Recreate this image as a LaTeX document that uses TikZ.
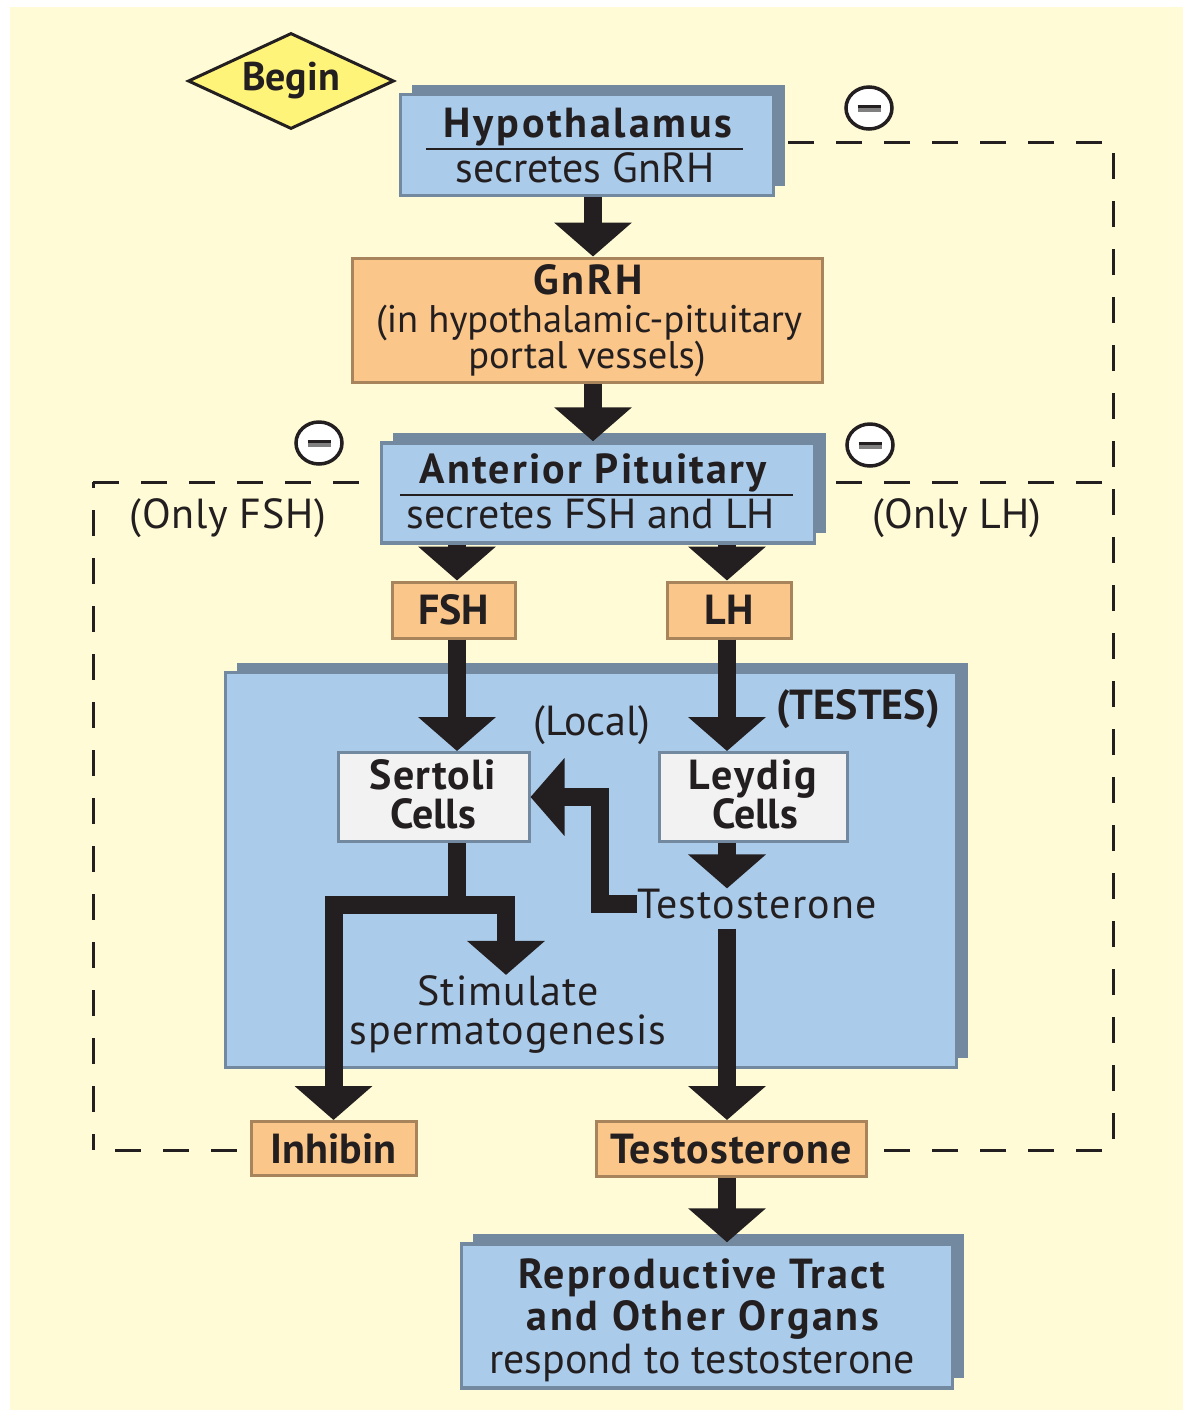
\documentclass[tikz,border=0pt]{standalone}
\usepackage{fontspec}
\setmainfont{PT Sans}
\usetikzlibrary{arrows.meta,shapes.geometric,shadows,calc}
\definecolor{cream}{HTML}{FFFBD6}
\definecolor{bluef}{HTML}{ABCBEA}
\definecolor{slate}{HTML}{7389A0}
\definecolor{orangef}{HTML}{FBC68A}
\definecolor{orangeb}{HTML}{A8845C}
\definecolor{yel}{HTML}{FFF47A}
\definecolor{cellf}{HTML}{F2F2F2}
\definecolor{ink}{HTML}{231F20}
\definecolor{minusgray}{HTML}{808080}
\begin{document}
\begin{tikzpicture}[x=1pt,y=-1pt,
  bluebox/.style={draw=slate, line width=3.5pt, fill=bluef, inner sep=0pt,
    general shadow={fill=slate, shadow xshift=11pt, shadow yshift=10pt}},
  orbox/.style={draw=orangeb, line width=3pt, fill=orangef, inner sep=0pt,
    text=ink, font=\fontsize{42}{42}\selectfont\bfseries},
  cellbox/.style={draw=slate, line width=3pt, fill=cellf, inner sep=0pt},
  fat/.style={draw=ink, line width=18pt, line join=miter,
    -{Triangle[length=34pt,width=76pt]}},
  fatline/.style={draw=ink, line width=18pt},
  dashline/.style={draw=ink, line width=3pt, dash pattern=on 26pt off 22pt},
  bt/.style={font=\fontsize{42}{42}\selectfont\bfseries, text=ink, inner sep=0pt, anchor=base},
  btw/.style={font=\fontsize{42}{42}\selectfont\bfseries\addfontfeatures{LetterSpace=#1},
    text=ink, inner sep=0pt, anchor=base},
  rt/.style={font=\fontsize{42}{42}\selectfont, text=ink, inner sep=0pt, anchor=base},
  rtw/.style={font=\fontsize{42}{42}\selectfont\addfontfeatures{LetterSpace=#1},
    text=ink, inner sep=0pt, anchor=base},
  rts/.style={font=\fontsize{38.5}{38.5}\selectfont, text=ink, inner sep=0pt, anchor=base},
  minus/.style={ellipse, draw=ink, fill=white, line width=3.5pt,
    minimum width=46pt, minimum height=42pt, inner sep=0pt},
  ruleline/.style={draw=ink, line width=2.5pt}
]
\useasboundingbox (0,0) rectangle (1191,1417);
\fill[white] (0,0) rectangle (1191,1417);
\fill[cream] (10,7) rectangle (1183,1410);

% corner coordinates of feedback loops
\coordinate (d1) at (1113,142);
\coordinate (d2) at (1113,1150);
\coordinate (d3) at (93,482);
\coordinate (d4) at (93,1150);
\coordinate (d5) at (1113,482);
\coordinate (tc) at (731,1150);
\coordinate (ic) at (334,1150);

% boxes that the dashed lines pass behind
\node[bluebox, minimum width=373pt, minimum height=101pt] (hyp) at (587,145) {};
\node[bluebox, minimum width=433pt, minimum height=100pt] (ant) at (598,493) {};

% dashed feedback lines (behind boxes)
\draw[dashline, dash phase=37pt] (d1) -- (hyp.center |- d1);
\draw[dashline, dash phase=37pt] (d1) -- (d2);
\draw[dashline, dash phase=37pt] (d2) -- (tc);
\draw[dashline, dash phase=37pt] (d5) -- (ant.center |- d5);
\draw[dashline] (d3) -- (ant.center |- d3);
\draw[dashline, dash phase=20pt] (d3) -- (d4);
\draw[dashline, dash phase=26pt] (d4) -- (ic);

% boxes
\node[bluebox, minimum width=373pt, minimum height=101pt] (hyp) at (587,145) {};
\node[btw=6.5] (hypT) at (588,137) {Hypothalamus};
\draw[ruleline] (426,149) -- (743,149);
\node[rt] (hypS) at (585,182) {secretes GnRH};

\node[diamond, aspect=2.15, draw=ink, fill=yel, line width=3pt, minimum width=206pt,
  minimum height=96pt, inner sep=0pt, text=ink,
  font=\fontsize{40}{40}\selectfont\bfseries] (begin) at (291,81) {Begin};

\node[orbox, minimum width=470pt, minimum height=124pt] (gnrh) at (587,320) {};
\node[btw=7] (gnrhT) at (588,294) {GnRH};
\node[rts] (gnrhA) at (589,332) {(in hypothalamic-pituitary};
\node[rts] (gnrhB) at (587,368) {portal vessels)};

\node[bluebox, minimum width=433pt, minimum height=100pt] (ant) at (598,493) {};
\node[btw=5.2] (antT) at (593,483) {Anterior Pituitary};
\draw[ruleline] (400,495) -- (793,495);
\node[rt] (antS) at (591,528) {secretes FSH and LH};

\node[minus] (m1) at (869,108) {\rlap{\color{ink}\rule[3.5pt]{23pt}{3.5pt}}\color{minusgray}\rule{23pt}{3.5pt}};
\node[minus] (m2) at (319,443) {\rlap{\color{ink}\rule[3.5pt]{23pt}{3.5pt}}\color{minusgray}\rule{23pt}{3.5pt}};
\node[minus] (m3) at (870,445) {\rlap{\color{ink}\rule[3.5pt]{23pt}{3.5pt}}\color{minusgray}\rule{23pt}{3.5pt}};

\node[rtw=1.7] (onlyfsh) at (228,528) {(Only FSH)};
\node[rt] (onlylh) at (957,528) {(Only LH)};

\node[orbox, minimum width=123pt, minimum height=56pt] (fsh) at (453.5,610) {FSH};
\node[orbox, minimum width=124pt, minimum height=56pt] (lh) at (729,610) {LH};

\node[bluebox, minimum width=731pt, minimum height=395pt] (testes) at (591,870) {};
\node[bt] (testesT) at (858,719) {(TESTES)};
\node[rt] (local) at (592,735) {(Local)};

\node[cellbox, minimum width=191pt, minimum height=89pt] (sert) at (433.5,797) {};
\node[btw=2.4] (sertA) at (433,789) {Sertoli};
\node[bt] (sertB) at (433,828) {Cells};
\node[cellbox, minimum width=188pt, minimum height=89pt] (leyd) at (753.5,797) {};
\node[btw=5.2] (leydA) at (753,789) {Leydig};
\node[bt] (leydB) at (755,828) {Cells};

\node[rtw=2.6] (tmid) at (757,918) {Testosterone};
\node[rtw=2.5, anchor=base] (stim) at (508,1005) {Stimulate};
\node[rtw=2.5, anchor=base] (stimB) at (508,1044) {spermatogenesis};

\node[orbox, minimum width=165pt, minimum height=54pt] (inh) at (333.5,1148.5) {Inhibin};
\node[orbox, minimum width=270pt, minimum height=55pt,
  font=\fontsize{42}{42}\selectfont\bfseries\addfontfeatures{LetterSpace=2.6}] (testo) at (731,1149) {Testosterone};

\node[bluebox, minimum width=491pt, minimum height=144pt] (repro) at (707,1316) {};
\node[btw=5] (reproA) at (702,1288) {Reproductive Tract};
\node[btw=6.7] (reproB) at (703,1330) {and Other Organs};
\node[rt] (reproC) at (702,1373) {respond to testosterone};

% connector coordinates
\coordinate (xc) at (593,0);
\coordinate (xf) at (457,0);
\coordinate (xl) at (727,0);
\coordinate (xs) at (506,0);
\coordinate (sj) at (457,905);
\coordinate (fb) at (600,797);
\coordinate (tmidb) at ($(tmid.south -| xl)+(0,10)$);

% arrows
\draw[fat] (hyp.south -| xc) -- (gnrh.north -| xc);
\draw[fat] (gnrh.south -| xc) -- (ant.north -| xc);
\draw[fat] (ant.south -| xf) -- (fsh.north -| xf);
\draw[fat] (ant.south -| xl) -- (lh.north -| xl);
\draw[fat] (fsh.south -| xf) -- (sert.north -| xf);
\draw[fat] (lh.south -| xl) -- (leyd.north -| xl);
\draw[fat] (leyd.south -| xl) -- (tmid.north -| xl);
\draw[fat] (tmidb) -- (testo.north -| xl);
\draw[fat] (testo.south -| xl) -- (repro.north -| xl);
\draw[fatline] (sert.south -| xf) -- (sj);
\draw[fat] (sj) -| (inh.north);
\draw[fat] (sj) -| (stim.north -| xs);
\draw[fat] (tmid.west) -| (fb) -- (sert.east);
\end{tikzpicture}
\end{document}
